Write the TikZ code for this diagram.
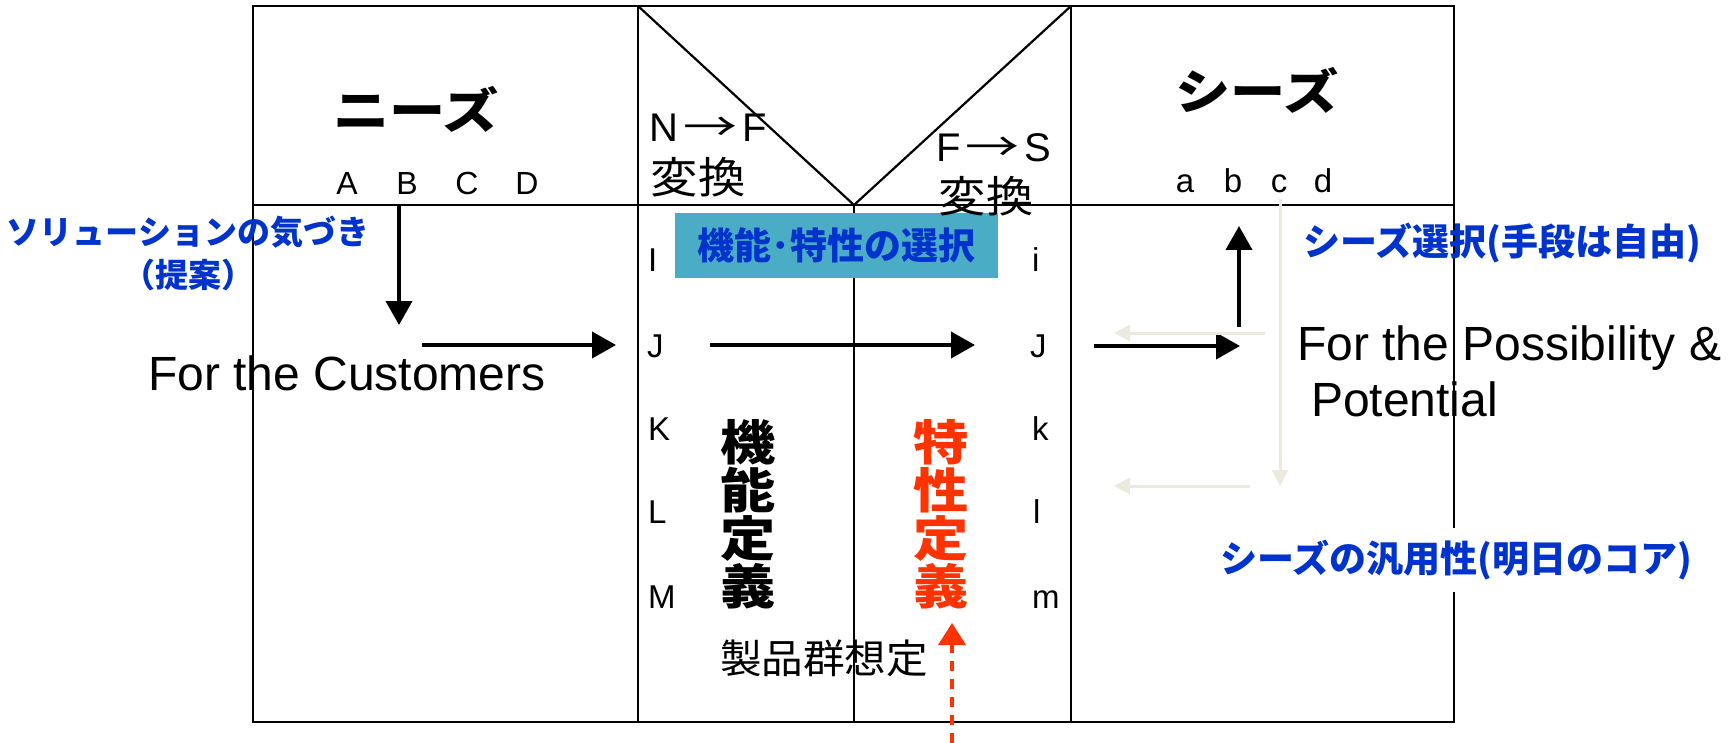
\documentclass[tikz,border=0pt]{standalone}
\usepackage{fontspec}
\usepackage{graphicx}
\setmainfont{Liberation Sans}
\newfontfamily\jp{Noto Sans CJK JP}
\usetikzlibrary{arrows.meta}
\definecolor{tealbox}{RGB}{75,172,198}
\definecolor{bluetxt}{RGB}{0,51,204}
\definecolor{redtxt}{RGB}{255,51,0}
\definecolor{beige}{RGB}{236,233,222}
\newcommand\wx[1]{\hbox{\scalebox{1.15}[1]{#1}}}
\newcommand\vstack[4]{\vbox{\baselineskip=48pt\lineskiplimit=-100pt\wx{#1}\wx{#2}\wx{#3}\wx{#4}}}
\newcommand\convarrow{\hspace{5pt}\scalebox{1.35}[1]{\jp →}\hspace{5pt}}
\tikzset{
  frame/.style={line width=2.8pt},
  diag/.style={line width=2.2pt},
  arr/.style={line width=4pt,-{Triangle[length=24pt,width=26pt]}},
  faint/.style={line width=3pt,draw=beige,-{Triangle[length=16pt,width=16pt,fill=beige]}},
  reddash/.style={line width=4pt,draw=redtxt,dash pattern=on 10pt off 8pt,-{Triangle[length=22pt,width=27pt,fill=redtxt]}},
  lat/.style={inner sep=0pt,anchor=base west,font=\fontsize{33}{40}\selectfont},
  latc/.style={inner sep=0pt,anchor=base,font=\fontsize{32}{40}\selectfont},
  big/.style={inner sep=0pt,anchor=base west,font=\fontsize{48}{56}\selectfont},
  conv/.style={inner sep=0pt,anchor=base west,font=\fontsize{40}{46}\selectfont},
  jtitle/.style={inner sep=0pt,font=\jp\bfseries\fontsize{48}{58}\selectfont},
  jreg/.style={inner sep=0pt,font=\jp\fontsize{43}{50}\selectfont},
  note/.style={inner sep=0pt,text=bluetxt,font=\jp\bfseries\fontsize{37}{44}\selectfont},
  vert/.style={inner sep=0pt,font=\jp\bfseries\fontsize{48}{48}\selectfont},
}
\begin{document}
\begin{tikzpicture}[x=1pt,y=-1pt]
\useasboundingbox (0,0) rectangle (1736,743);
% frame coordinates
\coordinate (tl) at (253,6);
\coordinate (br) at (1454,722);
\coordinate (ml) at (253,205);
\coordinate (mr) at (1454,205);
\coordinate (c1t) at (638,6);
\coordinate (c1b) at (638,722);
\coordinate (c3t) at (1071,6);
\coordinate (c3b) at (1071,722);
\coordinate (vx) at (854,205);
\coordinate (c2b) at (854,722);

\draw[frame] (tl) rectangle (br);
\draw[frame] (ml) -- (mr);
\draw[frame] (c1t) -- (c1b);
\draw[frame] (c3t) -- (c3b);
\draw[frame] (vx) -- (c2b);
\draw[diag] (c1t) -- (vx) -- (c3t);

\node[fill=tealbox,minimum width=323pt,minimum height=65pt,inner sep=0pt,
      text=bluetxt,font=\jp\bfseries\fontsize{37}{44}\selectfont] (sel) at (836.5,245.5) {機能･特性の選択};

% titles
\node[jtitle] (needs) at (416,109) {\scalebox{1.17}[1]{ニーズ}};
\node[jtitle] (seeds) at (1257,90) {\scalebox{1.15}[1]{シーズ}};

\node[latc] (A) at (347,195) {A};
\node[latc] (B) at (407,195) {B};
\node[latc] (C) at (467,195) {C};
\node[latc] (D) at (527,195) {D};
\node[latc,font=\fontsize{33}{40}\selectfont] (sa) at (1185,193) {a};
\node[latc,font=\fontsize{33}{40}\selectfont] (sb) at (1233,193) {b};
\node[latc,font=\fontsize{33}{40}\selectfont] (sc) at (1279,193) {c};
\node[latc,font=\fontsize{33}{40}\selectfont] (sd) at (1323,193) {d};

% conversions
\node[conv] (nf) at (649,142) {N\convarrow F};
\node[jreg] (nfk) at (698,177) {\scalebox{1.1}[1]{変換}};
\node[conv] (fs) at (936,162) {F\convarrow S};
\node[jreg] (fsk) at (986,196) {\scalebox{1.1}[1]{変換}};

% letter columns
\node[lat] (I) at (648,272) {I};
\node[lat] (J) at (647,357) {J};
\node[lat] (K) at (648,440) {K};
\node[lat] (L) at (648,523) {L};
\node[lat] (M) at (648,608) {M};
\node[lat] (si) at (1032,272) {i};
\node[lat] (sj) at (1030,357) {J};
\node[lat] (sk) at (1032,440) {k};
\node[lat] (sl) at (1033,523) {l};
\node[lat] (sm) at (1032,608) {m};

% vertical definitions
\node[vert] (fdef) at (748,514) {\vstack{機}{能}{定}{義}};
\node[vert,text=redtxt] (cdef) at (941,514) {\vstack{特}{性}{定}{義}};
\node[inner sep=0pt,font=\jp\fontsize{40}{48}\selectfont] (prod) at (824,658) {\scalebox{1.04}[1]{製品群想定}};

% english texts
\node[big] (cust) at (148,390) {For the Customers};
\node[big] (poss) at (1297,360) {For the Possibility \&};
\node[big] (pot) at (1311,416) {Potential};

% blue notes
\node[note,font=\jp\bfseries\fontsize{33}{40}\selectfont] (sol) at (188,232) {ソリューションの気づき};
\node[note,font=\jp\bfseries\fontsize{33}{40}\selectfont] (prop) at (188,275) {（提案）};
\node[note] (ssel) at (1502,243) {シーズ選択(手段は自由)};
\node[note,fill=white,minimum height=64pt] (gen) at (1456,560) {シーズの汎用性(明日のコア)};

% arrows
\coordinate (dA) at (399,205);
\coordinate (dB) at (399,325);
\coordinate (h1a) at (422,345);
\coordinate (h1b) at (616,345);
\coordinate (h2a) at (710,345);
\coordinate (h2b) at (975,345);
\coordinate (h3a) at (1094,346);
\coordinate (h3b) at (1240,346);
\coordinate (ua) at (1239,327);
\coordinate (ub) at (1239,226);
\draw[arr] (dA) -- (dB);
\draw[arr] (h1a) -- (h1b);
\draw[arr] (h2a) -- (h2b);
\draw[arr] (h3a) -- (h3b);
\draw[arr] (ua) -- (ub);

\coordinate (fva) at (1280,199);
\coordinate (fvb) at (1280,486);
\coordinate (fh1a) at (1265,333);
\coordinate (fh1b) at (1114,333);
\coordinate (fh2a) at (1250,486);
\coordinate (fh2b) at (1114,486);
\draw[faint] (fva) -- (fvb);
\draw[faint] (fh1a) -- (fh1b);
\draw[faint] (fh2a) -- (fh2b);

\coordinate (rda) at (952,743);
\coordinate (rdb) at (952,623);
\draw[reddash] (rda) -- (rdb);
\end{tikzpicture}
\end{document}
